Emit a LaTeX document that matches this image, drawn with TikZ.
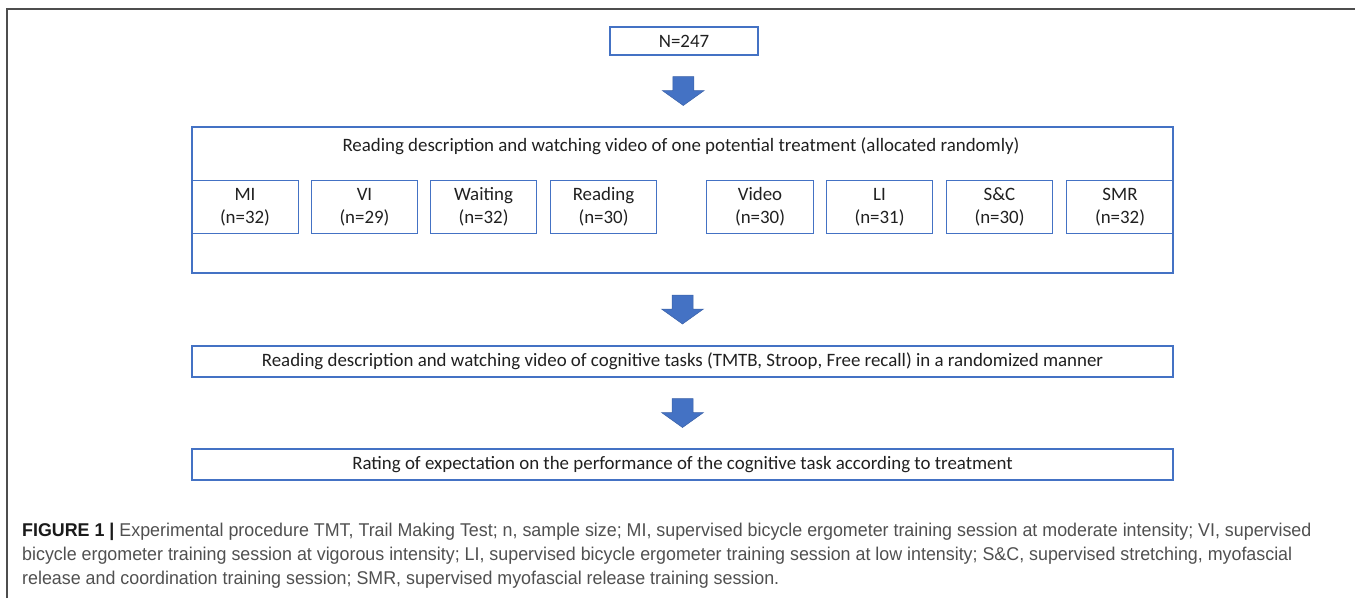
\documentclass[tikz,border=0pt]{standalone}
\usepackage{fontspec}
\setmainfont{Carlito}
\newfontfamily\capfont[FakeStretch=0.965]{Liberation Sans}
\usetikzlibrary{calc}
\definecolor{boxblue}{HTML}{4472C4}
\definecolor{arrowblue}{HTML}{4472C4}
\definecolor{txt}{HTML}{202020}
\definecolor{captxt}{HTML}{505050}
\definecolor{capbold}{HTML}{1A1A1A}
\definecolor{framegray}{HTML}{4D4D4D}
\begin{document}
\begin{tikzpicture}[x=1pt,y=-1pt,
  box/.style={draw=boxblue, line width=1.2pt, text=txt, inner sep=0pt, font=\fontsize{18.9}{23}\selectfont},
  grp/.style={box, minimum width=106.5pt, minimum height=53pt, align=center},
  wide/.style={box, minimum width=981pt, minimum height=31pt},
  plaintext/.style={inner sep=0pt, text=txt, font=\fontsize{18.9}{23}\selectfont},
  blockarrow/.style={fill=arrowblue, draw=arrowblue!85!black, line width=0.5pt},
  capline/.style={anchor=base west, inner sep=0pt, text=captxt, font=\capfont\fontsize{18.5}{24}\selectfont}
]
\useasboundingbox (0,0) rectangle (1355,598);
\draw[framegray, line width=1.5pt] (7,598) -- (7,9) -- (1355,9);

\node[box, minimum width=148pt, minimum height=28pt] (n) at (684,41) {N=247};
\node[box, minimum width=981pt, minimum height=146pt] (alloc) at (682.5,200) {};
\node[plaintext] (title) at (681,146) {Reading description and watching video of one potential treatment (allocated randomly)};

\node[grp] (mi) at (245,207) {MI\\(n=32)};
\node[grp] (vi) at (364.5,207) {VI\\(n=29)};
\node[grp] (wait) at (483.5,207) {Waiting\\(n=32)};
\node[grp] (read) at (603.5,207) {Reading\\(n=30)};
\node[grp] (video) at (760,207) {Video\\(n=30)};
\node[grp] (li) at (879.5,207) {LI\\(n=31)};
\node[grp] (sc) at (999.5,207) {S\&C\\(n=30)};
\node[grp] (smr) at (1120,207) {SMR\\(n=32)};

\node[wide] (cog) at (682.5,361.5) {Reading description and watching video of cognitive tasks (TMTB, Stroop, Free recall) in a randomized manner};
\node[wide] (rate) at (682.5,464.5) {Rating of expectation on the performance of the cognitive task according to treatment};

\coordinate (a1) at ($(n.south)!0.5!(alloc.north)$);
\coordinate (a2) at ($(alloc.south)!0.5!(cog.north)$);
\coordinate (a3) at ($(cog.south)!0.5!(rate.north)$);
\foreach \c in {a1,a2,a3}{
  \draw[blockarrow, shift={(\c)}] (-10.5,-14.5) -- (10.5,-14.5) -- (10.5,-0.5) -- (21,-0.5) -- (0,14.5) -- (-21,-0.5) -- (-10.5,-0.5) -- cycle;
}

\node[capline] (cap1) at (22,536) {\textcolor{capbold}{\textbf{FIGURE 1 |}} Experimental procedure TMT, Trail Making Test; n, sample size; MI, supervised bicycle ergometer training session at moderate intensity; VI, supervised};
\node[capline] (cap2) at (22,560) {bicycle ergometer training session at vigorous intensity; LI, supervised bicycle ergometer training session at low intensity; S\&C, supervised stretching, myofascial};
\node[capline] (cap3) at (22,584) {release and coordination training session; SMR, supervised myofascial release training session.};
\end{tikzpicture}
\end{document}
